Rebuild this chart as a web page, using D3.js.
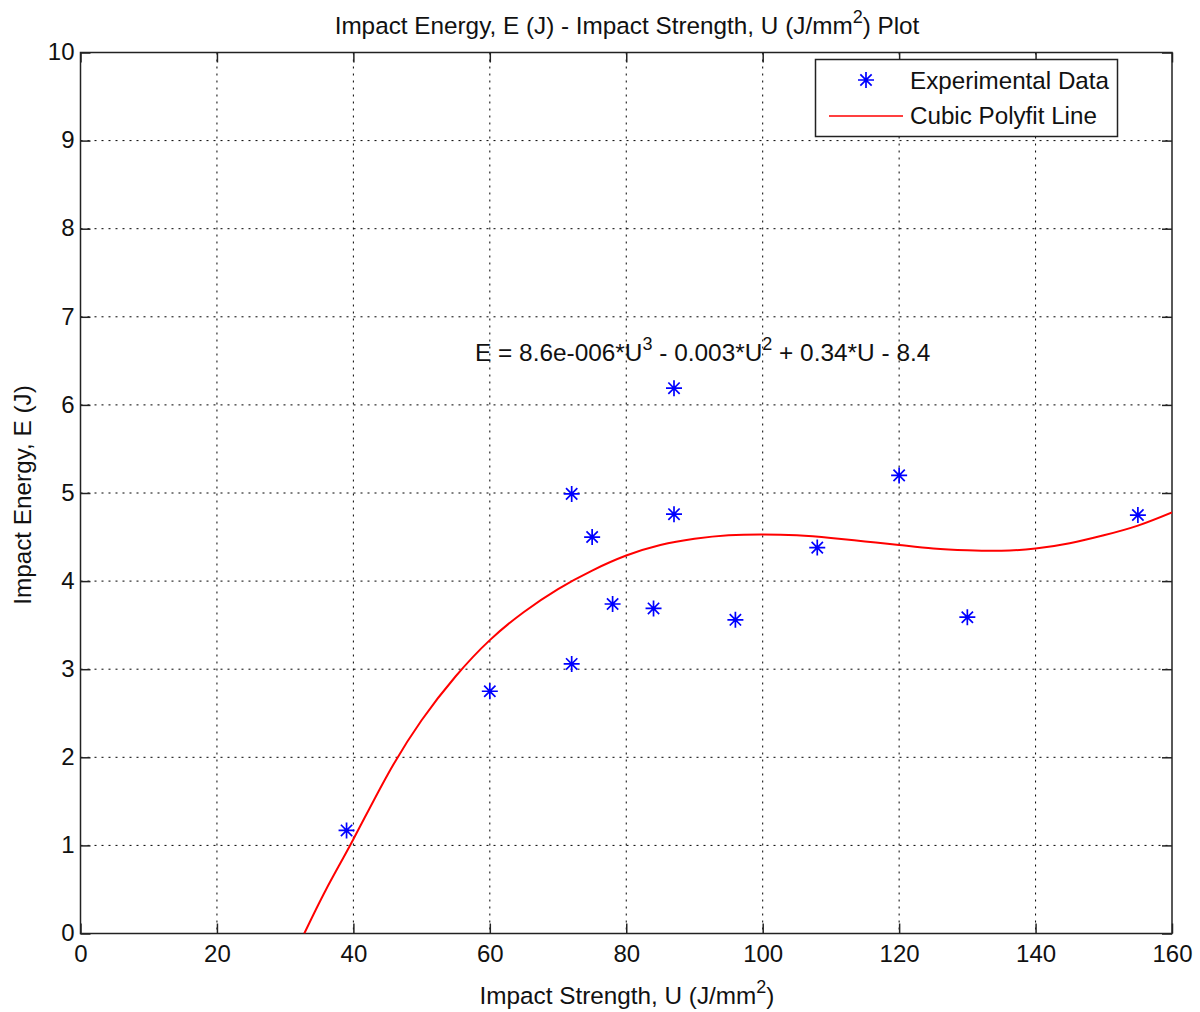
<!DOCTYPE html>
<html>
<head>
<meta charset="utf-8">
<script src="https://cdn.jsdelivr.net/npm/d3@7"></script>
<style>
html,body{margin:0;padding:0;background:#fff;}
svg{display:block;font-family:"Liberation Sans",Arial,sans-serif;}
</style>
</head>
<body>
<svg id="chart" width="1200" height="1012"></svg>
<script>
// Experimental data (U in J/mm^2, E in J)
const dataU = [39, 60, 72, 72, 75, 78, 84, 87, 87, 96, 108, 120, 130, 155];
const dataE = [1.17, 2.75, 3.06, 4.99, 4.50, 3.74, 3.69, 6.19, 4.76, 3.56, 4.38, 5.20, 3.59, 4.75];

// Cubic polyfit line
const fitU = [32.8, 36, 40, 45, 50, 55, 60, 65, 70, 75, 80, 85, 90, 95, 100, 105, 110, 115, 120, 125, 130, 135, 140, 145, 150, 155, 160];
const fitE = [0, 0.5, 1.07, 1.8, 2.42, 2.92, 3.33, 3.65, 3.91, 4.12, 4.29, 4.41, 4.48, 4.52, 4.53, 4.52, 4.49, 4.45, 4.41, 4.37, 4.35, 4.345, 4.37, 4.43, 4.52, 4.63, 4.78];

const xTicks = [0, 20, 40, 60, 80, 100, 120, 140, 160];
const yTicks = [0, 1, 2, 3, 4, 5, 6, 7, 8, 9, 10];

const svg = d3.select("#chart");
const L = 80.5, R = 1172, T = 52.5, B = 933.5;
const x = d3.scaleLinear().domain([0, 160]).range([L, R]);
const y = d3.scaleLinear().domain([0, 10]).range([B, T]);

const fs = 24;
const txt = "#111";

// grid
const grid = svg.append("g").attr("stroke", "#000").attr("stroke-width", 1).attr("stroke-dasharray", "2,5");
xTicks.slice(1, -1).forEach(t => {
  grid.append("line").attr("x1", x(t)).attr("x2", x(t)).attr("y1", T).attr("y2", B);
});
yTicks.slice(1, -1).forEach(t => {
  grid.append("line").attr("x1", L).attr("x2", R).attr("y1", y(t)).attr("y2", y(t));
});

// axes with inward ticks
const tl = 10;
const axB = svg.append("g").attr("transform", `translate(0,${B})`)
  .call(d3.axisBottom(x).tickValues(xTicks).tickSizeInner(-tl).tickSizeOuter(0).tickPadding(11));
const axT = svg.append("g").attr("transform", `translate(0,${T})`)
  .call(d3.axisTop(x).tickValues(xTicks).tickSizeInner(-tl).tickSizeOuter(0).tickFormat(""));
const axL = svg.append("g").attr("transform", `translate(${L},0)`)
  .call(d3.axisLeft(y).tickValues(yTicks).tickSizeInner(-tl).tickSizeOuter(0).tickPadding(6));
const axR = svg.append("g").attr("transform", `translate(${R},0)`)
  .call(d3.axisRight(y).tickValues(yTicks).tickSizeInner(-tl).tickSizeOuter(0).tickFormat(""));
[axB, axT, axL, axR].forEach(a => {
  a.select(".domain").remove();
  a.selectAll(".tick line").attr("stroke", "#222").attr("stroke-width", 1.5);
  a.selectAll("text").attr("font-size", fs).attr("fill", txt).attr("font-family", "Liberation Sans, Arial, sans-serif");
});
axB.selectAll("text").attr("dy", "0.71em");
axL.selectAll("text").attr("dy", "0.3em");

// box
svg.append("rect").attr("x", L).attr("y", T).attr("width", R - L).attr("height", B - T)
  .attr("fill", "none").attr("stroke", "#222").attr("stroke-width", 1.5);

// clip
svg.append("clipPath").attr("id", "clip").append("rect")
  .attr("x", L).attr("y", T).attr("width", R - L).attr("height", B - T);

// fit line
const fitPts = fitU.map((u, i) => [u, fitE[i]]);
svg.append("path").attr("clip-path", "url(#clip)")
  .attr("d", d3.line().x(d => x(d[0])).y(d => y(d[1])).curve(d3.curveNatural)(fitPts))
  .attr("fill", "none").attr("stroke", "#ff0000").attr("stroke-width", 2);

// asterisk marker
function asterisk(cx, cy, r) {
  const d = r * Math.SQRT1_2;
  return `M${cx - r},${cy}L${cx + r},${cy}M${cx},${cy - r}L${cx},${cy + r}` +
         `M${cx - d},${cy - d}L${cx + d},${cy + d}M${cx - d},${cy + d}L${cx + d},${cy - d}`;
}
const pts = dataU.map((u, i) => [u, dataE[i]]);
svg.append("g").selectAll("path").data(pts).join("path")
  .attr("d", d => asterisk(x(d[0]), y(d[1]), 8))
  .attr("fill", "none").attr("stroke", "#0000ff").attr("stroke-width", 1.7);

// title
const title = svg.append("text").attr("x", 627).attr("y", 34).attr("text-anchor", "middle")
  .attr("font-size", 24.3).attr("fill", txt);
title.append("tspan").text("Impact Energy, E (J) - Impact Strength, U (J/mm");
title.append("tspan").attr("dy", -11).attr("font-size", 18).text("2");
title.append("tspan").attr("dy", 11).text(") Plot");

// x label
const xl = svg.append("text").attr("x", 627).attr("y", 1004).attr("text-anchor", "middle")
  .attr("font-size", 24.3).attr("fill", txt);
xl.append("tspan").text("Impact Strength, U (J/mm");
xl.append("tspan").attr("dy", -11).attr("font-size", 18).text("2");
xl.append("tspan").attr("dy", 11).text(")");

// y label
svg.append("text").attr("transform", `translate(31,${495}) rotate(-90)`)
  .attr("text-anchor", "middle").attr("font-size", 24.3).attr("fill", txt)
  .text("Impact Energy, E (J)");

// equation
const eq = svg.append("text").attr("x", 475).attr("y", 361).attr("font-size", 24.4).attr("fill", txt);
eq.append("tspan").text("E = 8.6e-006*U");
eq.append("tspan").attr("dy", -11).attr("font-size", 18).text("3");
eq.append("tspan").attr("dy", 11).text(" - 0.003*U");
eq.append("tspan").attr("dy", -11).attr("font-size", 18).text("2");
eq.append("tspan").attr("dy", 11).text(" + 0.34*U - 8.4");

// legend
const lg = svg.append("g");
lg.append("rect").attr("x", 815.5).attr("y", 59.5).attr("width", 302).attr("height", 77)
  .attr("fill", "#fff").attr("stroke", "#222").attr("stroke-width", 1.5);
lg.append("path").attr("d", asterisk(866, 80, 8)).attr("fill", "none").attr("stroke", "#0000ff").attr("stroke-width", 1.7);
lg.append("line").attr("x1", 829).attr("x2", 903).attr("y1", 116).attr("y2", 116)
  .attr("stroke", "#ff0000").attr("stroke-width", 1.5);
lg.append("text").attr("x", 910).attr("y", 89).attr("font-size", 24.2).attr("fill", txt).text("Experimental Data");
lg.append("text").attr("x", 910).attr("y", 124).attr("font-size", 24.2).attr("fill", txt).text("Cubic Polyfit Line");
</script>
</body>
</html>
